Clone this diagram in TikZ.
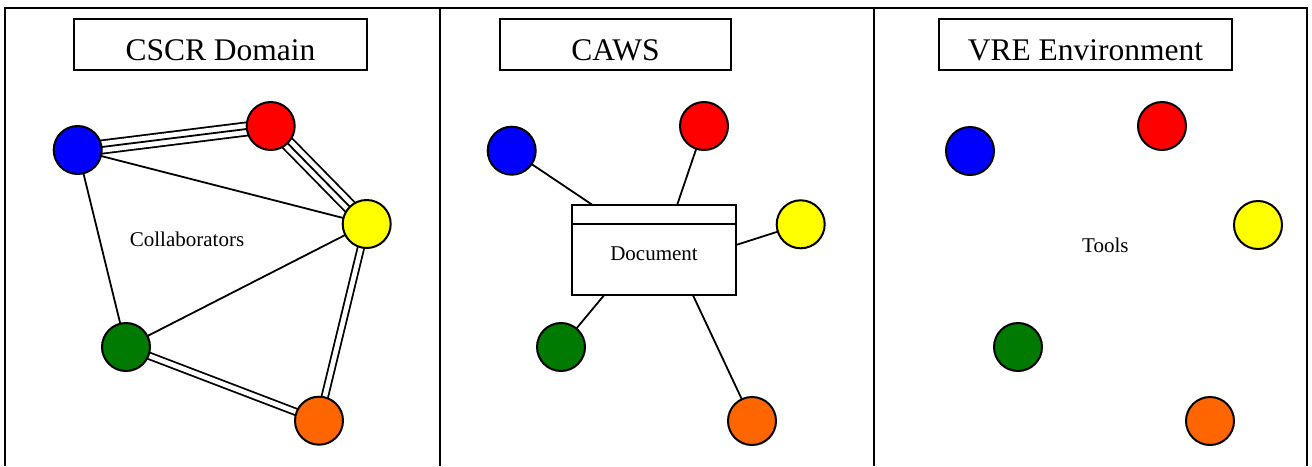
\documentclass[tikz,border=0pt]{standalone}
\usepackage{fontspec}
\setmainfont{Liberation Serif}
\usetikzlibrary{calc,backgrounds}
\definecolor{pblue}{RGB}{0,0,255}
\definecolor{pred}{RGB}{255,0,0}
\definecolor{pyellow}{RGB}{255,255,0}
\definecolor{pgreen}{RGB}{0,122,0}
\definecolor{porange}{RGB}{255,102,0}
\begin{document}
\begin{tikzpicture}[x=1pt,y=-1pt,
  frame/.style={line width=2pt},
  titlebox/.style={draw, line width=1.8pt, inner sep=0pt, outer sep=0pt, minimum height=51pt},
  titletext/.style={font=\fontsize{31.5}{36}\selectfont, inner sep=0pt, anchor=base},
  labeltext/.style={font=\fontsize{21}{25}\selectfont, inner sep=0pt, anchor=base},
  dot/.style={circle, draw, line width=2pt, minimum size=48pt, inner sep=0pt, outer sep=0pt, fill=#1},
  docbox/.style={draw, line width=1.8pt, inner sep=0pt, outer sep=0pt, minimum width=163.7pt, minimum height=90pt},
  link/.style={line width=1.8pt},
  doubleline/.style={line width=1.8pt, double, double distance=4.7pt},
  tripleouter/.style={line width=1.8pt, double, double distance=11.4pt},
]
\useasboundingbox (0,0) rectangle (1312,466);

% outer frame and panel dividers
\draw[frame] (5,466) -- (5,8) -- (1307,8) -- (1307,466);
\draw[frame] (440,8) -- (440,466);
\draw[frame] (874,8) -- (874,466);

% panel titles
\node[titlebox, minimum width=293pt] (cscrbox) at (220.5,44.5) {};
\node[titletext] (cscrtext) at (220.5,60) {CSCR Domain};
\node[titlebox, minimum width=231pt] (cawsbox) at (615.5,44.5) {};
\node[titletext] (cawstext) at (615.5,60) {CAWS};
\node[titlebox, minimum width=293pt] (vrebox) at (1085.5,44.5) {};
\node[titletext] (vretext) at (1085.5,60) {VRE Environment};

% ---- CSCR Domain: collaborators linked to each other
\node[dot=pblue]   (b1) at (77.7,150) {};
\node[dot=pred]    (r1) at (270.7,126) {};
\node[dot=pyellow] (y1) at (366.7,224) {};
\node[dot=pgreen]  (g1) at (126,347) {};
\node[dot=porange] (o1) at (319,420.7) {};
\node[labeltext] (collab) at (187,246) {Collaborators};

\begin{scope}[on background layer]
  \draw[tripleouter] (b1.center) -- (r1.center);
  \draw[link]        (b1.center) -- (r1.center);
  \draw[tripleouter] (r1.center) -- (y1.center);
  \draw[link]        (r1.center) -- (y1.center);
  \draw[doubleline]  (y1.center) -- (o1.center);
  \draw[doubleline]  (g1.center) -- (o1.center);
  \draw[link] (b1.center) -- (y1.center);
  \draw[link] (b1.center) -- (g1.center);
  \draw[link] (g1.center) -- (y1.center);
\end{scope}

% ---- CAWS: everyone linked through a shared document
\node[dot=pblue]   (b2) at (511.7,150.7) {};
\node[dot=pred]    (r2) at (704,126) {};
\node[dot=pyellow] (y2) at (800.7,224.3) {};
\node[dot=pgreen]  (g2) at (561,347) {};
\node[dot=porange] (o2) at (752,421) {};
\node[docbox] (doc) at (654.15,250.3) {};
\draw[link] ($(doc.north west)+(0,19)$) -- ($(doc.north east)+(0,19)$);
\node[labeltext] (doctext) at (654,260) {Document};

\coordinate (dB) at ($(doc.north west)+(20.7,0)$);
\coordinate (dR) at ($(doc.north west)+(104.7,0)$);
\coordinate (dY) at ($(doc.north east)+(0,39.7)$);
\coordinate (dG) at ($(doc.south west)+(31.7,0)$);
\coordinate (dO) at ($(doc.south west)+(120.7,0)$);
\draw[link] (b2) -- (dB);
\draw[link] (r2) -- (dR);
\draw[link] (y2) -- (dY);
\draw[link] (g2) -- (dG);
\draw[link] (o2) -- (dO);

% ---- VRE Environment: unconnected tools
\node[dot=pblue]   (b3) at (970,151) {};
\node[dot=pred]    (r3) at (1162,126) {};
\node[dot=pyellow] (y3) at (1258,225) {};
\node[dot=pgreen]  (g3) at (1018,347) {};
\node[dot=porange] (o3) at (1210,421) {};
\node[labeltext] (tools) at (1105.3,252.3) {Tools};
\end{tikzpicture}
\end{document}
